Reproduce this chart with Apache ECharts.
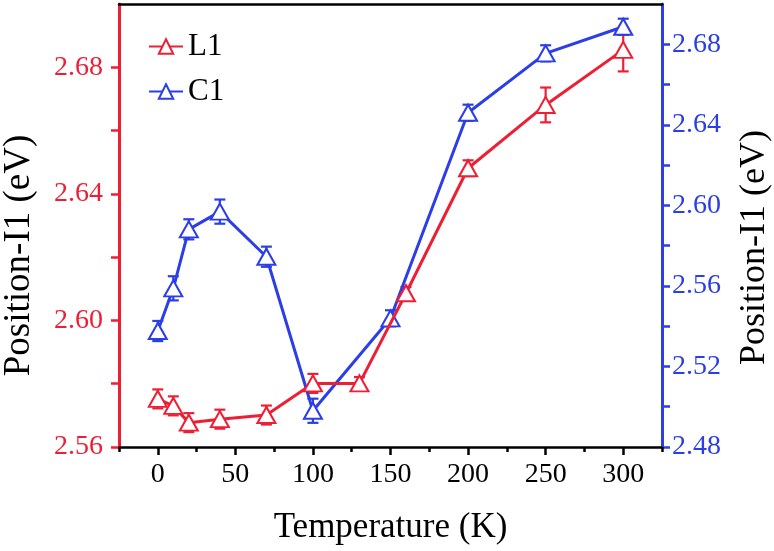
<!DOCTYPE html>
<html>
<head>
<meta charset="utf-8">
<script src="https://cdn.jsdelivr.net/npm/echarts@6/dist/echarts.min.js"></script>
<style>
html,body{margin:0;padding:0;background:#fff;}
#chart{width:774px;height:551px;}
</style>
</head>
<body>
<div id="chart"></div>
<script>
// ---- data ----
var tempL1 = [0, 10, 20, 40, 70, 100, 130, 160, 200, 250, 300];
var posL1 = [2.5752, 2.5730, 2.5677, 2.5688, 2.5701, 2.5801, 2.5801, 2.6086, 2.6481, 2.6681, 2.6855];
var errL1 = [0.003, 0.003, 0.003, 0.003, 0.003, 0.003, 0.002, 0.002, 0.0025, 0.0055, 0.0068];

var tempC1 = [0, 10, 20, 40, 70, 100, 150, 200, 250, 300];
var posC1 = [2.5376, 2.5588, 2.5881, 2.5969, 2.5745, 2.4980, 2.5439, 2.6460, 2.6755, 2.6887];
var errC1 = [0.005, 0.006, 0.005, 0.006, 0.005, 0.006, 0.004, 0.004, 0.004, 0.004];

var xMajorTicks = [0, 50, 100, 150, 200, 250, 300];
var xMinorTicks = [-25, 25, 75, 125, 175, 225, 275, 325];
var leftTicks = [2.56, 2.58, 2.60, 2.62, 2.64, 2.66, 2.68];
var leftLabels = [2.56, 2.60, 2.64, 2.68];
var rightTicks = [2.48, 2.50, 2.52, 2.54, 2.56, 2.58, 2.60, 2.62, 2.64, 2.66, 2.68];
var rightLabels = [2.48, 2.52, 2.56, 2.60, 2.64, 2.68];

var RED = '#ee1f35';
var BLUE = '#2b3ee8';
var FONT = '"Liberation Serif", "Times New Roman", serif';

function zip(a, b, c) { return a.map(function (v, i) { return c ? [v, b[i], c[i]] : [v, b[i]]; }); }

function errRender(color) {
  return function (params, api) {
    var x = api.value(0), y = api.value(1), e = api.value(2);
    var hi = api.coord([x, y + e]);
    var lo = api.coord([x, y - e]);
    var w = 5.5;
    var st = { stroke: color, lineWidth: 2.2 };
    return {
      type: 'group',
      children: [
        { type: 'line', shape: { x1: hi[0], y1: hi[1], x2: lo[0], y2: lo[1] }, style: st },
        { type: 'line', shape: { x1: hi[0] - w, y1: hi[1], x2: hi[0] + w, y2: hi[1] }, style: st },
        { type: 'line', shape: { x1: lo[0] - w, y1: lo[1], x2: lo[0] + w, y2: lo[1] }, style: st }
      ]
    };
  };
}

var chart = echarts.init(document.getElementById('chart'));
chart.setOption({
  backgroundColor: '#fff',
  animation: false,
  textStyle: { fontFamily: FONT },
  grid: { left: 119, right: 112, top: 4, bottom: 104, containLabel: false, outerBoundsMode: 'none' },
  legend: {
    orient: 'vertical',
    left: 143, top: 26,
    itemWidth: 34, itemHeight: 18, itemGap: 14,
    textStyle: { fontFamily: FONT, fontSize: 31, color: '#000' },
    data: ['L1', 'C1']
  },
  xAxis: [
    {
      type: 'value', min: -25, max: 325, position: 'bottom',
      name: 'Temperature (K)', nameLocation: 'middle', nameGap: 63,
      nameTextStyle: { fontFamily: FONT, fontSize: 35, color: '#000' },
      axisLine: { show: true, onZero: false, lineStyle: { color: '#000', width: 2.5 } },
      axisTick: { show: true, inside: false, length: 8, customValues: xMajorTicks, lineStyle: { color: '#000', width: 2.5 } },
      axisLabel: { customValues: xMajorTicks, margin: 14, fontFamily: FONT, fontSize: 28, color: '#000' },
      splitLine: { show: false }
    },
    {
      type: 'value', min: -25, max: 325, position: 'bottom',
      axisLine: { show: false, onZero: false },
      axisTick: { show: true, length: 5, customValues: xMinorTicks, lineStyle: { color: '#000', width: 2.5 } },
      axisLabel: { show: false },
      splitLine: { show: false }
    },
    {
      type: 'value', min: -25, max: 325, position: 'top',
      axisLine: { show: true, onZero: false, lineStyle: { color: '#000', width: 2.5 } },
      axisTick: { show: false }, axisLabel: { show: false }, splitLine: { show: false }
    }
  ],
  yAxis: [
    {
      type: 'value', min: 2.56, max: 2.70, position: 'left',
      name: 'Position-I1 (eV)', nameLocation: 'middle', nameGap: 81, nameRotate: 90,
      nameTextStyle: { fontFamily: FONT, fontSize: 37, color: '#000', padding: [0, 60, 0, 0] },
      axisLine: { show: true, onZero: false, lineStyle: { color: RED, width: 3 } },
      axisTick: { show: true, length: 8, customValues: leftTicks, lineStyle: { color: RED, width: 2.5 } },
      axisLabel: { customValues: leftLabels, margin: 16, fontFamily: FONT, fontSize: 28, color: RED,
        formatter: function (v) { return v.toFixed(2); } },
      splitLine: { show: false }
    },
    {
      type: 'value', min: 2.48, max: 2.70, position: 'right',
      name: 'Position-I1 (eV)', nameLocation: 'middle', nameGap: 75, nameRotate: 90,
      nameTextStyle: { fontFamily: FONT, fontSize: 36, color: '#000', padding: [0, 44, 0, 0] },
      axisLine: { show: true, onZero: false, lineStyle: { color: BLUE, width: 3 } },
      axisTick: { show: true, length: 8, customValues: rightTicks, lineStyle: { color: BLUE, width: 2.5 } },
      axisLabel: { customValues: rightLabels, margin: 10, fontFamily: FONT, fontSize: 28, color: BLUE,
        formatter: function (v) { return v.toFixed(2); } },
      splitLine: { show: false }
    }
  ],
  series: [
    {
      type: 'custom', name: 'L1err', xAxisIndex: 0, yAxisIndex: 0, z: 1,
      renderItem: errRender(RED), data: zip(tempL1, posL1, errL1), silent: true
    },
    {
      type: 'custom', name: 'C1err', xAxisIndex: 0, yAxisIndex: 1, z: 1,
      renderItem: errRender(BLUE), data: zip(tempC1, posC1, errC1), silent: true
    },
    {
      type: 'line', name: 'L1', xAxisIndex: 0, yAxisIndex: 0, z: 3,
      data: zip(tempL1, posL1),
      symbol: 'emptyTriangle', symbolSize: [18, 16],
      lineStyle: { color: RED, width: 3 },
      itemStyle: { color: RED, borderColor: RED, borderWidth: 1.5 }
    },
    {
      type: 'line', name: 'C1', xAxisIndex: 0, yAxisIndex: 1, z: 2,
      data: zip(tempC1, posC1),
      symbol: 'emptyTriangle', symbolSize: [18, 16],
      lineStyle: { color: BLUE, width: 3 },
      itemStyle: { color: BLUE, borderColor: BLUE, borderWidth: 1.5 }
    }
  ]
});
</script>
</body>
</html>
